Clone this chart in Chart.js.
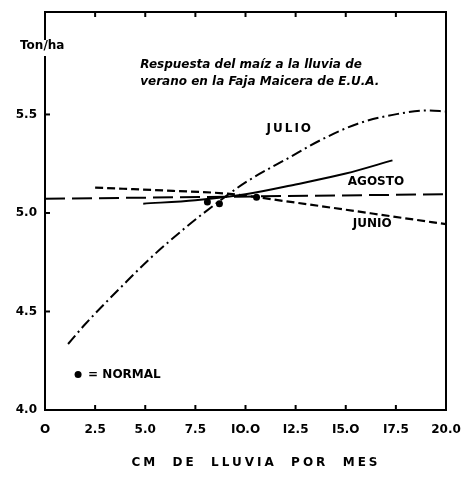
<!DOCTYPE html>
<html><head><meta charset="utf-8">
<script src="https://cdn.jsdelivr.net/npm/chart.js@4/dist/chart.umd.min.js"></script>
<style>html,body{margin:0;padding:0;background:#fff}#w{width:469px;height:477px}</style>
</head><body><div id="w"><canvas id="c" width="469" height="477"></canvas></div>
<script>
const xTicks = [0, 2.5, 5, 7.5, 10, 12.5, 15, 17.5, 20];
const xTickLabels = ["O", "2.5", "5.0", "7.5", "IO.O", "I2.5", "I5.O", "I7.5", "20.0"];
const yTicks = [4.0, 4.5, 5.0, 5.5];
const yTickLabels = ["4.0", "4.5", "5.0", "5.5"];

const julioX = [1.15, 2, 4, 5.25, 7, 8.5, 10, 12.25, 13.75, 15.6, 17.6, 19.1, 20];
const julioY = [4.335, 4.435, 4.645, 4.77, 4.925, 5.045, 5.155, 5.285, 5.37, 5.453, 5.503, 5.52, 5.515];
const agostoX = [4.9, 7.5, 10, 12.5, 15, 17.33];
const agostoY = [5.047, 5.065, 5.095, 5.145, 5.2, 5.267];
const junioX = [2.5, 6.4, 9.1, 12.25, 16.4, 20];
const junioY = [5.129, 5.112, 5.098, 5.056, 4.996, 4.943];
const normalLineX = [0, 20];
const normalLineY = [5.072, 5.095];
const normalDotsX = [8.1, 8.7, 10.55];
const normalDotsY = [5.056, 5.047, 5.08];
const legendDotX = [1.65];
const legendDotY = [4.18];

const seriesLabels = ["JULIO", "AGOSTO", "JUNIO"];
const titleLines = ["Respuesta del maíz a la lluvia de", "verano en la Faja Maicera de E.U.A."];
const legendText = "= NORMAL";
const xTitle = "CM  DE  LLUVIA  POR  MES";
const yTitle = "Ton/ha";

const pts = (xs, ys) => xs.map((x, i) => ({x, y: ys[i]}));
const FONT = '"DejaVu Sans", sans-serif';

const decor = {
  id: 'decor',
  afterDraw(chart) {
    const {ctx, chartArea: a, scales: {x, y}} = chart;
    ctx.save();
    ctx.strokeStyle = '#000';
    ctx.lineWidth = 2;
    ctx.strokeRect(a.left, a.top, a.right - a.left, a.bottom - a.top);
    xTicks.slice(1, -1).forEach(v => {
      const px = x.getPixelForValue(v);
      ctx.beginPath(); ctx.moveTo(px, a.bottom); ctx.lineTo(px, a.bottom - 5); ctx.stroke();
      ctx.beginPath(); ctx.moveTo(px, a.top); ctx.lineTo(px, a.top + 5); ctx.stroke();
    });
    yTicks.slice(1).forEach(v => {
      const py = y.getPixelForValue(v);
      ctx.beginPath(); ctx.moveTo(a.left, py); ctx.lineTo(a.left + 5, py); ctx.stroke();
    });
    ctx.font = 'bold 12px ' + FONT;
    ctx.textBaseline = 'middle';
    ctx.textAlign = 'left';
    ctx.fillStyle = '#fff';
    ctx.fillRect(a.left - 3, 40, 6, 16);
    ctx.fillStyle = '#000';
    ctx.fillText(yTitle, 20, 46);
    ctx.font = 'italic bold 12px ' + FONT;
    ctx.fillText(titleLines[0], x.getPixelForValue(4.75), y.getPixelForValue(5.75));
    ctx.fillText(titleLines[1], x.getPixelForValue(4.75), y.getPixelForValue(5.665));
    ctx.font = 'bold 12px ' + FONT;
    ctx.save();
    ctx.letterSpacing = '2px';
    ctx.fillText(seriesLabels[0], x.getPixelForValue(11.05), y.getPixelForValue(5.425));
    ctx.restore();
    ctx.fillText(seriesLabels[1], x.getPixelForValue(15.1), y.getPixelForValue(5.16));
    ctx.fillText(seriesLabels[2], x.getPixelForValue(15.35), y.getPixelForValue(4.945));
    ctx.fillText(legendText, x.getPixelForValue(2.15), y.getPixelForValue(4.18));
    ctx.textAlign = 'center';
    ctx.letterSpacing = '3px';
    ctx.fillText(xTitle, 256, 463);
    ctx.restore();
  }
};

new Chart(document.getElementById('c'), {
  type: 'scatter',
  data: {
    datasets: [
      {data: pts(julioX, julioY), showLine: true, borderColor: '#000', borderWidth: 2, borderDash: [11, 4, 2, 4], pointRadius: 0, tension: 0.4, cubicInterpolationMode: 'monotone'},
      {data: pts(agostoX, agostoY), showLine: true, borderColor: '#000', borderWidth: 2, pointRadius: 0, tension: 0.4, cubicInterpolationMode: 'monotone'},
      {data: pts(junioX, junioY), showLine: true, borderColor: '#000', borderWidth: 2.2, borderDash: [8, 4], pointRadius: 0, tension: 0.4, cubicInterpolationMode: 'monotone'},
      {data: pts(normalLineX, normalLineY), showLine: true, borderColor: '#000', borderWidth: 2, borderDash: [20, 7], pointRadius: 0},
      {data: pts(normalDotsX, normalDotsY), showLine: false, pointRadius: 3.5, pointBackgroundColor: '#000', pointBorderWidth: 0},
      {data: pts(legendDotX, legendDotY), showLine: false, pointRadius: 3.5, pointBackgroundColor: '#000', pointBorderWidth: 0}
    ]
  },
  options: {
    responsive: false,
    animation: false,
    events: [],
    layout: {padding: {top: 12, right: 23, left: 0, bottom: 0}},
    plugins: {legend: {display: false}, tooltip: {enabled: false}},
    scales: {
      x: {
        type: 'linear', min: 0, max: 20,
        afterBuildTicks: s => { s.ticks = xTicks.map(v => ({value: v})); },
        afterFit: s => { s.height = 67; s.paddingLeft = 0; s.paddingRight = 0; },
        grid: {display: false, drawTicks: false},
        border: {display: false},
        ticks: {
          padding: 13, color: '#000', font: {family: FONT, weight: 'bold', size: 12}, maxRotation: 0,
          callback: (v) => { const i = xTicks.indexOf(v); return i >= 0 ? xTickLabels[i] : ''; }
        }
      },
      y: {
        type: 'linear', min: 4.0, max: 6.02,
        afterBuildTicks: s => { s.ticks = yTicks.map(v => ({value: v})); },
        afterFit: s => { s.width = 45; s.paddingTop = 0; s.paddingBottom = 0; },
        grid: {display: false, drawTicks: false},
        border: {display: false},
        ticks: {
          padding: 8, color: '#000', font: {family: FONT, weight: 'bold', size: 12},
          callback: (v) => { const i = yTicks.indexOf(v); return i >= 0 ? yTickLabels[i] : ''; }
        }
      }
    }
  },
  plugins: [decor]
});
</script>
</body></html>
